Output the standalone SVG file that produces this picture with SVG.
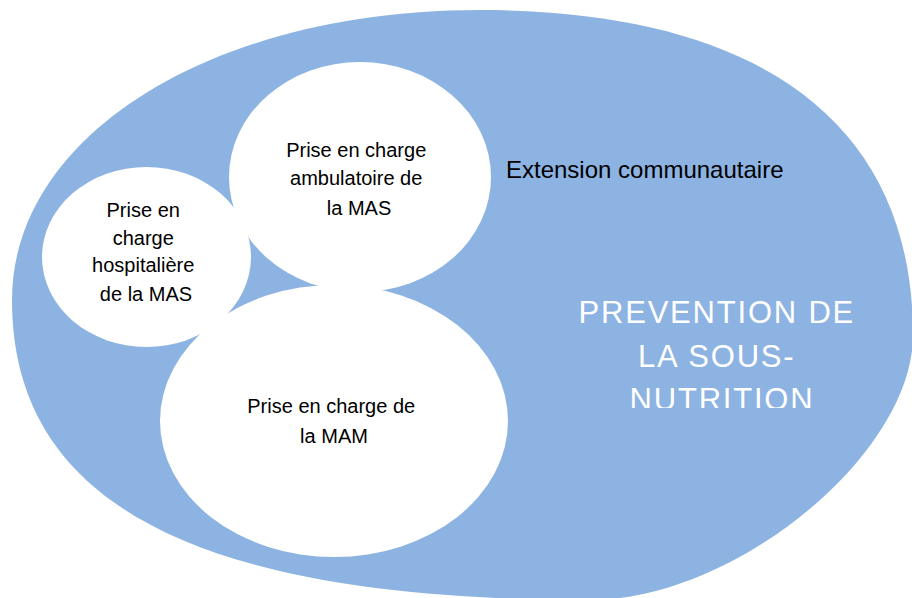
<svg xmlns="http://www.w3.org/2000/svg" width="912" height="598" viewBox="0 0 912 598">
  <defs>
    <style>
      .bg { fill: #ffffff; }
      .outer { fill: #8DB3E2; }
      .bubble { fill: #ffffff; }
      .lbl { font-family: "Liberation Sans", Arial, sans-serif; font-size: 20px; fill: #000000; text-anchor: middle; }
      .ext { font-family: "Liberation Sans", Arial, sans-serif; font-size: 24px; fill: #000000; }
      .big { font-family: "Liberation Sans", Arial, sans-serif; font-size: 31px; letter-spacing: 1.8px; fill: #ffffff; text-anchor: middle; }
    </style>
    <!-- the title text box cuts off the bottom of its last line -->
    <clipPath id="titleClip">
      <rect x="560" y="280" width="352" height="128"/>
    </clipPath>
  </defs>

  <rect class="bg" x="0" y="0" width="912" height="598"/>

  <!-- community extension: large outer oval -->
  <g id="extension">
    <path class="outer" d="M480,10 C761,10 913,124 913,335 C913,454 735,600 590,600 C197,600 12,504 12,300 C12,135 213,10 480,10 Z"/>
    <text class="ext" x="506" y="178">Extension communautaire</text>
  </g>

  <g id="prevention">
    <text class="big" clip-path="url(#titleClip)">
      <tspan x="722" y="323">PREVENTION DE</tspan>
      <tspan x="722" y="367">LA SOUS-</tspan>
      <tspan x="722" y="410">NUTRITION</tspan>
    </text>
  </g>

  <!-- inpatient care of severe acute malnutrition -->
  <g id="hospitaliere">
    <ellipse class="bubble" cx="146.5" cy="257" rx="104.5" ry="90"/>
    <text class="lbl">
      <tspan x="146" y="217">Prise en</tspan>
      <tspan x="146" y="245">charge</tspan>
      <tspan x="146" y="272">hospitalière</tspan>
      <tspan x="146" y="301">de la MAS</tspan>
    </text>
  </g>

  <!-- outpatient care of severe acute malnutrition -->
  <g id="ambulatoire">
    <ellipse class="bubble" cx="360" cy="177" rx="131" ry="115"/>
    <text class="lbl">
      <tspan x="359" y="157">Prise en charge</tspan>
      <tspan x="359" y="185">ambulatoire de</tspan>
      <tspan x="359" y="215">la MAS</tspan>
    </text>
  </g>

  <!-- care of moderate acute malnutrition -->
  <g id="mam">
    <ellipse class="bubble" cx="334" cy="421" rx="174" ry="136"/>
    <text class="lbl">
      <tspan x="334" y="413">Prise en charge de</tspan>
      <tspan x="334" y="443">la MAM</tspan>
    </text>
  </g>
</svg>
